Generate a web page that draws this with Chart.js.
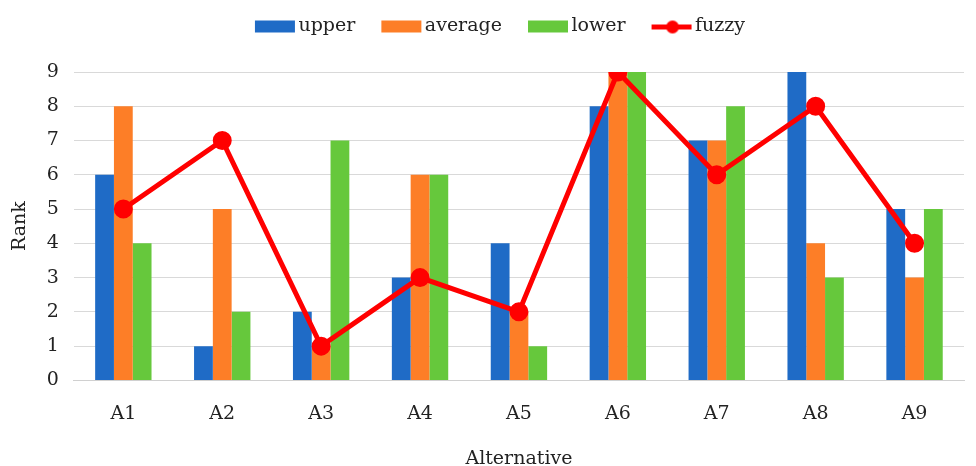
<!DOCTYPE html>
<html>
<head>
<meta charset="utf-8">
<script src="https://cdn.jsdelivr.net/npm/chart.js@4"></script>
<style>
  html, body { margin: 0; padding: 0; background: #fff; }
  #wrap { width: 976px; height: 466px; }
</style>
</head>
<body>
<div id="wrap"><canvas id="myChart" width="976" height="466"></canvas></div>
<script>
const labels = ['A1', 'A2', 'A3', 'A4', 'A5', 'A6', 'A7', 'A8', 'A9'];
const upper = [6, 1, 2, 3, 4, 8, 7, 9, 5];
const average = [8, 5, 1, 6, 2, 9, 7, 4, 3];
const lower = [4, 2, 7, 6, 1, 9, 8, 3, 5];
const fuzzy = [5, 7, 1, 3, 2, 9, 6, 8, 4];
const yTicks = [0, 1, 2, 3, 4, 5, 6, 7, 8, 9];
const legendOrder = ['upper', 'average', 'lower', 'fuzzy'];

const font = 'DejaVu Serif';
const txt = '#222';

// legend keys: image is centred on the key box, the key sits at its right end
// so the empty left part gives the extra space between legend entries
const keyImage = (color, isLine) => {
  const c = document.createElement('canvas');
  c.width = 64; c.height = 16;
  const ctx = c.getContext('2d');
  ctx.fillStyle = color;
  if (isLine) {
    ctx.fillRect(23, 6, 40, 5);
    ctx.beginPath();
    ctx.arc(44, 8.5, 6.5, 0, Math.PI * 2);
    ctx.fill();
  } else {
    ctx.fillRect(23, 2, 40, 12);
  }
  return c;
};

const legendGap = {
  id: 'legendGap',
  beforeInit(chart) {
    const fit = chart.legend.fit;
    chart.legend.fit = function () {
      fit.bind(chart.legend)();
      this.height += 26;
    };
  }
};

const dataConfig = {
  labels: labels,
  datasets: [
    { type: 'line', label: 'fuzzy', data: fuzzy, borderColor: '#ff0000', backgroundColor: '#ff0000',
      borderWidth: 5, pointRadius: 7, pointHoverRadius: 7, order: 0 },
    { type: 'bar', label: 'upper', data: upper, backgroundColor: '#1f6bc6', order: 1 },
    { type: 'bar', label: 'average', data: average, backgroundColor: '#fd7e27', order: 1 },
    { type: 'bar', label: 'lower', data: lower, backgroundColor: '#66c83c', order: 1 }
  ]
};

const config = {
  data: dataConfig,
  options: {
    responsive: false,
    animation: false,
    layout: { padding: { left: 9, right: 1, top: 7, bottom: -4 } },
    datasets: {
      bar: { barPercentage: 1, categoryPercentage: 0.57 }
    },
    plugins: {
      legend: {
        position: 'top',
        labels: {
          font: { family: font, size: 19 },
          color: txt,
          usePointStyle: true,
          pointStyleWidth: 50,
          boxHeight: 16,
          padding: 10,
          sort: (a, b) => legendOrder.indexOf(a.text) - legendOrder.indexOf(b.text),
          generateLabels: (chart) => {
            return chart.data.datasets.map((ds, i) => ({
              text: ds.label,
              fontColor: txt,
              pointStyle: keyImage(ds.type === 'line' ? ds.borderColor : ds.backgroundColor, ds.type === 'line'),
              datasetIndex: i,
              hidden: false,
              lineWidth: 0
            }));
          }
        }
      },
      tooltip: { enabled: false }
    },
    scales: {
      x: {
        grid: { display: false, drawTicks: false },
        border: { color: '#d0d0d0', width: 1 },
        ticks: { font: { family: font, size: 19 }, color: txt, padding: 22 },
        title: { display: true, text: 'Alternative', font: { family: font, size: 19 }, color: txt, padding: { top: 0, bottom: 0 } }
      },
      y: {
        min: 0,
        max: 9,
        afterBuildTicks: (axis) => { axis.ticks = yTicks.map(v => ({ value: v })); },
        grid: { color: '#d9d9d9', drawTicks: false },
        border: { display: false },
        ticks: { font: { family: font, size: 19 }, color: txt, padding: 15 },
        title: { display: true, text: 'Rank', font: { family: font, size: 19 }, color: txt, padding: { top: 0, bottom: 0 } }
      }
    }
  },
  plugins: [legendGap]
};

new Chart(document.getElementById('myChart'), config);
</script>
</body>
</html>
